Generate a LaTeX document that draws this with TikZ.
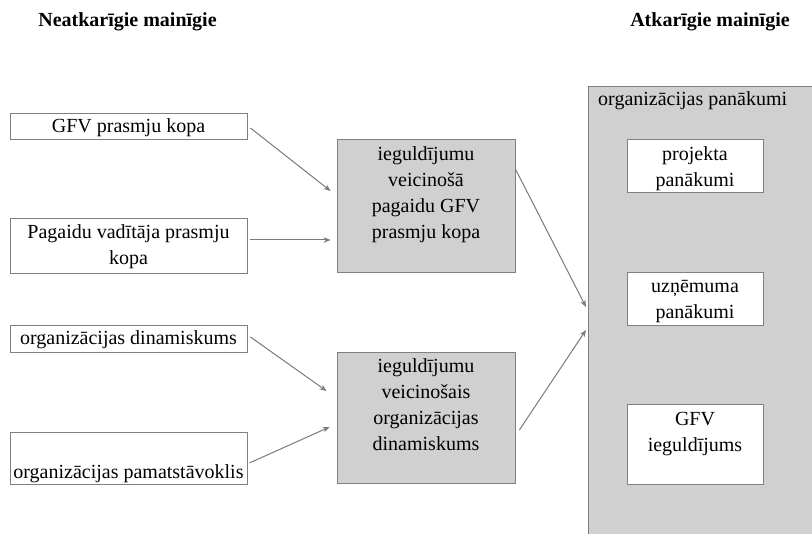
\documentclass[tikz,border=0pt]{standalone}
\usepackage{fontspec}
\setmainfont{Liberation Serif}
\usetikzlibrary{arrows.meta}
\definecolor{boxgray}{HTML}{D0D0D0}
\definecolor{linegray}{HTML}{808080}
\definecolor{arrgray}{HTML}{7A7A7A}
\tikzset{
  txt/.style={font=\fontsize{20}{26}\selectfont, inner sep=0pt, align=center},
  lbox/.style={draw=linegray, line width=0.8pt, fill=white, minimum width=237pt, inner sep=2pt,
     font=\fontsize{20}{25}\selectfont, align=center},
  gbox/.style={draw=linegray, line width=0.8pt, fill=boxgray, inner sep=0pt},
  wbox/.style={draw=linegray, line width=0.8pt, fill=white, minimum width=136pt, inner sep=0pt},
  hdr/.style={font=\fontsize{20}{24}\selectfont\bfseries, inner sep=0pt},
  arr/.style={draw=arrgray, line width=1pt, -{Stealth[length=7pt,width=5.5pt]}}
}
\begin{document}
\begin{tikzpicture}[x=1pt,y=-1pt]
\useasboundingbox[fill=white] (0,0) rectangle (812,534);
% headers
\node[hdr] (h1) at (127.5,22) {Neatkarīgie mainīgie};
\node[hdr] (h2) at (710,22) {Atkarīgie mainīgie};
% left boxes
\node[lbox, minimum height=26pt] (a) at (128.5,126) {};
\node[txt] (at) at (128.5,127.5) {GFV prasmju kopa};
\node[lbox, minimum height=55pt] (b) at (128.5,245.5) {};
\node[txt] (bt) at (128.5,247) {Pagaidu vadītāja prasmju\\kopa};
\node[lbox, minimum height=27pt] (c) at (128.5,338.5) {};
\node[txt] (ct) at (128.5,340) {organizācijas dinamiskums};
\node[lbox, minimum height=52pt] (d) at (128.5,458) {};
\node[txt, anchor=base] (dt) at (128.5,479) {organizācijas pamatstāvoklis};
% middle boxes
\node[gbox, minimum width=178pt, minimum height=133pt] (m1) at (426,205.5) {};
\node[txt, anchor=north] (m1t) at (426,146) {ieguldījumu\\veicinošā\\pagaidu GFV\\prasmju kopa};
\node[gbox, minimum width=178pt, minimum height=131pt] (m2) at (426,417.5) {};
\node[txt, anchor=north] (m2t) at (426,358) {ieguldījumu\\veicinošais\\organizācijas\\dinamiskums};
% right big box
\node[gbox, anchor=north west, minimum width=240pt, minimum height=470pt] (org) at (588,86) {};
\node[txt, anchor=west] (orgl) at (598,101) {organizācijas panākumi};
\node[wbox, minimum height=53pt] (r1) at (695,165.5) {};
\node[txt] (r1t) at (695,169) {projekta\\panākumi};
\node[wbox, minimum height=53pt] (r2) at (695,298.5) {};
\node[txt] (r2t) at (695,302) {uzņēmuma\\panākumi};
\node[wbox, minimum height=80pt] (r3) at (695,444) {};
\node[txt, anchor=north] (r3t) at (695,412) {GFV\\ieguldījums};
% arrows
\draw[arr] ([xshift=3pt,yshift=-2pt]a.east) -- ([xshift=-6pt,yshift=14.5pt]m1.west);
\draw[arr] ([xshift=3pt,yshift=5.5pt]b.east) -- ([xshift=-6pt,yshift=5.5pt]m1.west |- b.east);
\draw[arr] ([xshift=3pt,yshift=1.5pt]c.east) -- ([xshift=-10pt,yshift=26.5pt]m2.west);
\draw[arr] ([xshift=2pt,yshift=-5pt]d.east) -- ([xshift=-7pt,yshift=-9.5pt]m2.west);
\draw[arr] ([yshift=36.5pt]m1.east) -- ([xshift=-2pt,yshift=-221pt]org.north west);
\draw[arr] ([xshift=4pt,yshift=-12.5pt]m2.east) -- ([xshift=-2pt,yshift=-244pt]org.north west);
\end{tikzpicture}
\end{document}
